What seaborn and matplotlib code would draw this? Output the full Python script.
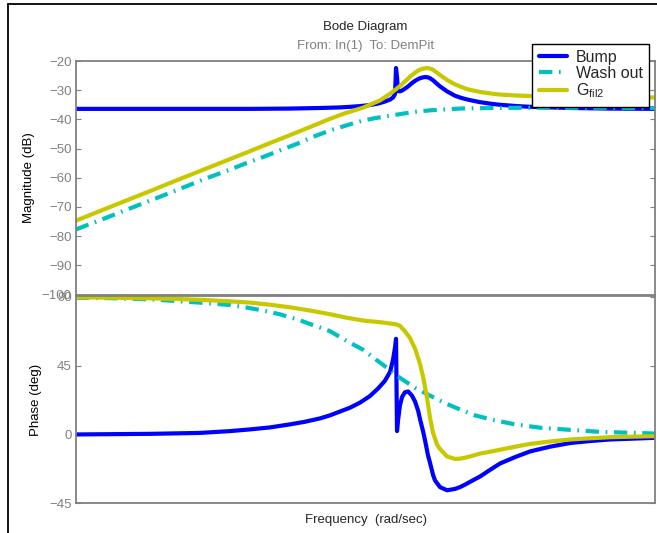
import numpy as np
import pandas as pd
import seaborn as sns
import matplotlib.pyplot as plt
from matplotlib.lines import Line2D

# ===============================
# style
# ===============================
sns.set_style('white')
plt.rcParams['font.family'] = ['Liberation Sans', 'DejaVu Sans']
plt.rcParams['mathtext.fontset'] = 'custom'
plt.rcParams['mathtext.rm'] = 'Liberation Sans'
plt.rcParams['mathtext.it'] = 'Liberation Sans:italic'

# ===============================
# data
# ===============================
bump_w = [0.1, 0.324, 0.719, 1.16, 1.59, 2.19, 3.01, 3.82, 4.85, 5.69, 6.67, 7.82,
          9.16, 10.7, 12.2, 13.6, 14.8, 15.5, 16.0, 16.25, 16.51, 16.77, 17.3, 17.9,
          18.7, 19.7, 20.9, 22.0, 23.1, 23.8, 25.0, 25.8, 27.0, 27.9, 29.3, 30.2,
          32.7, 36.6, 41.5, 45.0, 48.7, 52.7, 61.8, 72.4, 84.9, 108, 137, 188,
          259, 356, 489, 1000]
bump_mag = [-36.4, -36.4, -36.4, -36.4, -36.4, -36.35, -36.3, -36.2, -36.1, -36.0, -35.9, -35.7,
            -35.45, -35.1, -34.6, -33.9, -33.2, -32.5, -31.3, -22.4, -25.5, -30.3, -30.4, -30.1,
            -29.5, -28.7, -27.6, -26.8, -26.2, -25.9, -25.6, -25.5, -25.6, -25.9, -26.6, -27.2,
            -28.7, -30.4, -31.9, -32.5, -33.0, -33.4, -34.1, -34.6, -35.0, -35.4, -35.7, -35.9,
            -36.1, -36.2, -36.3, -36.4]
bump_phase = [0.0, 0.4, 1.0, 2.2, 3.3, 4.6, 6.6, 8.3, 10.5, 12.5, 15.0, 17.5,
              20.8, 25.0, 30.0, 35.0, 41.0, 49.0, 57.0, 62.5, 2.2, 9.0, 19.0, 24.5,
              27.5, 28.1, 25.5, 21.5, 15.5, 10.0, 2.0, -4.0, -13.5, -18.5, -26.5, -30.0,
              -34.4, -36.5, -35.6, -34.4, -32.8, -31.0, -27.5, -23.2, -19.0, -14.8, -11.1, -8.0,
              -5.6, -4.3, -3.3, -2.2]

wash_w = [0.1, 0.172, 0.236, 0.351, 0.523, 0.766, 1.16, 1.5, 1.96, 2.57, 3.36, 4.34,
          5.69, 7.45, 9.61, 11.6, 14.1, 17.3, 22.0, 27.9, 35.4, 45.0, 57.0, 76.0,
          108, 161, 259, 417, 1000]
wash_mag = [-77.7, -73.2, -70.5, -67.2, -63.8, -60.5, -57.2, -55.0, -52.9, -50.6, -48.4, -46.0,
            -43.8, -42.0, -40.4, -39.6, -38.9, -38.2, -37.4, -36.9, -36.6, -36.3, -36.2, -36.1,
            -36.05, -36.0, -36.0, -36.0, -36.1]
wash_phase = [89.4, 89.1, 88.7, 88.2, 87.0, 86.0, 84.6, 83.0, 81.0, 78.5, 75.3, 71.5,
              67.5, 61.0, 55.4, 49.5, 43.5, 37.0, 30.5, 25.4, 20.5, 16.3, 12.5, 9.5,
              6.6, 4.4, 3.0, 1.7, 0.6]

fil_w = [0.1, 0.172, 0.324, 0.483, 0.719, 1.07, 1.59, 2.19, 3.01, 4.14, 5.69, 7.22,
         9.61, 10.7, 12.6, 14.8, 16.3, 17.3, 18.7, 20.3, 22.0, 23.1, 23.8, 25.0,
         26.6, 27.9, 29.3, 31.2, 32.7, 36.6, 41.5, 45.0, 48.7, 52.7, 61.8, 72.4,
         84.9, 108, 137, 188, 259, 356, 489, 1000]
fil_mag = [-74.7, -70.0, -64.6, -61.1, -57.7, -54.3, -50.9, -48.1, -45.4, -42.6, -39.8, -37.9,
           -36.0, -35.0, -33.5, -31.2, -29.6, -28.6, -27.0, -25.4, -24.0, -23.3, -23.0, -22.6,
           -22.4, -22.6, -23.0, -24.0, -24.8, -26.5, -28.0, -28.7, -29.4, -29.9, -30.6, -31.1,
           -31.5, -31.8, -32.0, -32.2, -32.3, -32.35, -32.4, -32.5]
fil_phase = [89.7, 89.4, 89.0, 88.6, 88.0, 87.2, 86.2, 84.8, 83.1, 81.0, 78.6, 76.5,
             74.5, 74.0, 73.4, 72.5, 72.0, 71.0, 67.5, 63.0, 56.0, 50.0, 46.0, 37.6,
             24.0, 11.0, 1.0, -6.6, -9.5, -14.4, -16.0, -15.8, -15.2, -14.4, -12.5, -11.3,
             -10.0, -8.0, -6.2, -4.6, -3.3, -2.5, -1.8, -1.1]

mag_ticks = [-100, -90, -80, -70, -60, -50, -40, -30, -20]
phase_ticks = [-45, 0, 45, 90]

blue = '#0000ff'
cyan = '#00c0c0'
yellow = '#c8c800'
grey = '#808080'
dashdot = (0, (3.2, 1.6, 0.4, 1.6))

# ===============================
# figure
# ===============================
fig = plt.figure(figsize=(6.57, 5.33), dpi=100)
W, H = 657, 533


def box(l, t, r, b):
    return [l / W, 1 - b / H, (r - l) / W, (b - t) / H]


ax_mag = fig.add_axes(box(76, 61, 655, 294.5))
ax_ph = fig.add_axes(box(76, 296, 655, 503.3))

sns.lineplot(x=bump_w, y=bump_mag, ax=ax_mag, color=blue, lw=3, estimator=None, sort=False)
sns.lineplot(x=wash_w, y=wash_mag, ax=ax_mag, color=cyan, lw=3, estimator=None, sort=False,
             linestyle=dashdot)
sns.lineplot(x=fil_w, y=fil_mag, ax=ax_mag, color=yellow, lw=3, estimator=None, sort=False)

sns.lineplot(x=bump_w, y=bump_phase, ax=ax_ph, color=blue, lw=3, estimator=None, sort=False)
sns.lineplot(x=wash_w, y=wash_phase, ax=ax_ph, color=cyan, lw=3, estimator=None, sort=False,
             linestyle=dashdot)
sns.lineplot(x=fil_w, y=fil_phase, ax=ax_ph, color=yellow, lw=3, estimator=None, sort=False)

for ax in [ax_mag, ax_ph]:
    ax.set_xscale('log')
    ax.set_xlim(0.1, 1000)
    ax.set_xticks([])
    ax.xaxis.set_minor_locator(plt.NullLocator())
    for sp in ax.spines.values():
        sp.set_visible(True)
        sp.set_color(grey)
        sp.set_linewidth(1.3)
    ax.tick_params(axis='y', which='both', direction='in', left=True, right=True,
                   length=3.5, width=0.8, color=grey, labelcolor=grey, labelsize=9.5, pad=3)
    ax.set_xlabel('')

ax_mag.set_ylim(-100, -20)
ax_mag.set_yticks(mag_ticks)
ax_ph.set_ylim(-45, 90.5)
ax_ph.set_yticks(phase_ticks)

ax_mag.set_ylabel('Magnitude (dB)', fontsize=9.5, color='black')
ax_mag.yaxis.set_label_coords(-0.071, 0.5)
ax_ph.set_ylabel('Phase (deg)', fontsize=9.5, color='black')
ax_ph.yaxis.set_label_coords(-0.058, 0.5)

fig.text(365.5 / W, 1 - 520 / H, 'Frequency  (rad/sec)', ha='center', va='center', fontsize=9.5)
fig.text(365.5 / W, 1 - 27 / H, 'Bode Diagram', ha='center', va='center', fontsize=9.5)
fig.text(365.5 / W, 1 - 46 / H, 'From: In(1)  To: DemPit', ha='center', va='center',
         fontsize=9.5, color=grey)

# legend
handles = [Line2D([], [], color=blue, lw=3),
           Line2D([], [], color=cyan, lw=3, linestyle=dashdot),
           Line2D([], [], color=yellow, lw=3)]
leg = fig.legend(handles, ['Bump', 'Wash out', r'G$_{\mathrm{fil2}}$'],
                 loc='upper right', bbox_to_anchor=(649 / W, 1 - 43.5 / H),
                 fontsize=11.5, frameon=True, fancybox=False, framealpha=1,
                 edgecolor='black', borderpad=0.4, labelspacing=0.05,
                 handlelength=1.75, handletextpad=0.55, borderaxespad=0)
leg.get_frame().set_linewidth(1.0)

# outer black frame (left and top edges)
fig.add_artist(Line2D([8.3 / W, 8.3 / W], [0, 1 - 4 / H], color='black', lw=1.3,
                      transform=fig.transFigure))
fig.add_artist(Line2D([8.3 / W, 1], [1 - 4 / H, 1 - 4 / H], color='black', lw=1.3,
                      transform=fig.transFigure))

fig.savefig('out.png', dpi=100)
